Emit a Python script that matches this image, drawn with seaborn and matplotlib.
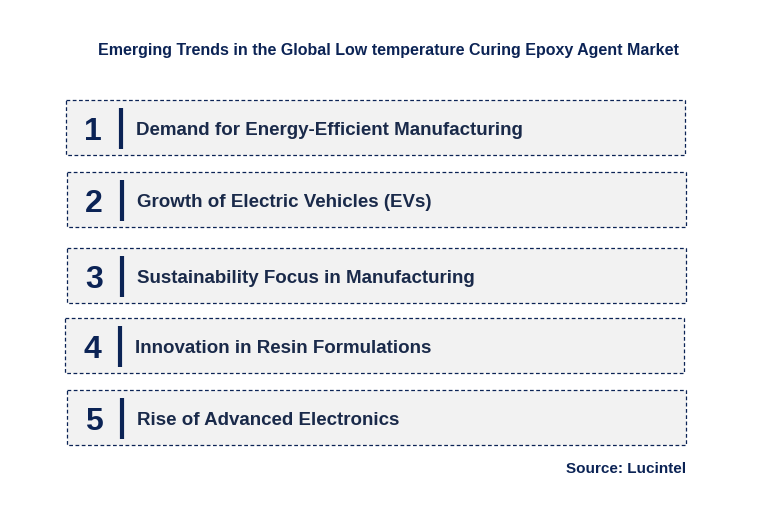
import matplotlib
matplotlib.use("Agg")
import matplotlib.pyplot as plt
from matplotlib.patches import Rectangle
import seaborn as sns

title = "Emerging Trends in the Global Low temperature Curing Epoxy Agent Market"
numbers = ["1", "2", "3", "4", "5"]
trends = [
    "Demand for Energy-Efficient Manufacturing",
    "Growth of Electric Vehicles (EVs)",
    "Sustainability Focus in Manufacturing",
    "Innovation in Resin Formulations",
    "Rise of Advanced Electronics",
]
source = "Source: Lucintel"

# box layout in pixel coordinates (left, top)
box_left = [66, 67, 67, 65, 67]
box_top = [100, 172, 248, 318, 390]
box_w, box_h = 619, 55

navy = "#0b2355"
sns.set_theme(style="white")
sns.set_style({"font.family": "Liberation Sans"})

fig = plt.figure(figsize=(7.76, 5.21), dpi=100)
ax = fig.add_axes([0, 0, 1, 1])
ax.set_xlim(0, 776)
ax.set_ylim(521, 0)
ax.axis("off")

ax.text(388, 50, title, ha="center", va="center", fontsize=11.5,
        fontweight="bold", color=navy, family="Liberation Sans")

for num, label, x0, y0 in zip(numbers, trends, box_left, box_top):
    ax.add_patch(Rectangle((x0, y0), box_w, box_h, facecolor="#f2f2f2",
                           edgecolor=navy, linewidth=0.9, linestyle=(0, (3, 2))))
    ax.text(x0 + 27, y0 + box_h / 2 + 4, num, ha="center", va="center",
            fontsize=23, fontweight="bold", color=navy, family="Liberation Sans")
    ax.plot([x0 + 55, x0 + 55], [y0 + 8, y0 + 49], color=navy, linewidth=3,
            solid_capstyle="butt")
    ax.text(x0 + 70, y0 + box_h / 2 + 3, label, ha="left", va="center",
            fontsize=13.5, fontweight="bold", color="#1a2a4a", family="Liberation Sans")

ax.text(686, 469, source, ha="right", va="center", fontsize=11,
        fontweight="bold", color=navy, family="Liberation Sans")

fig.savefig("out.png", dpi=100)
